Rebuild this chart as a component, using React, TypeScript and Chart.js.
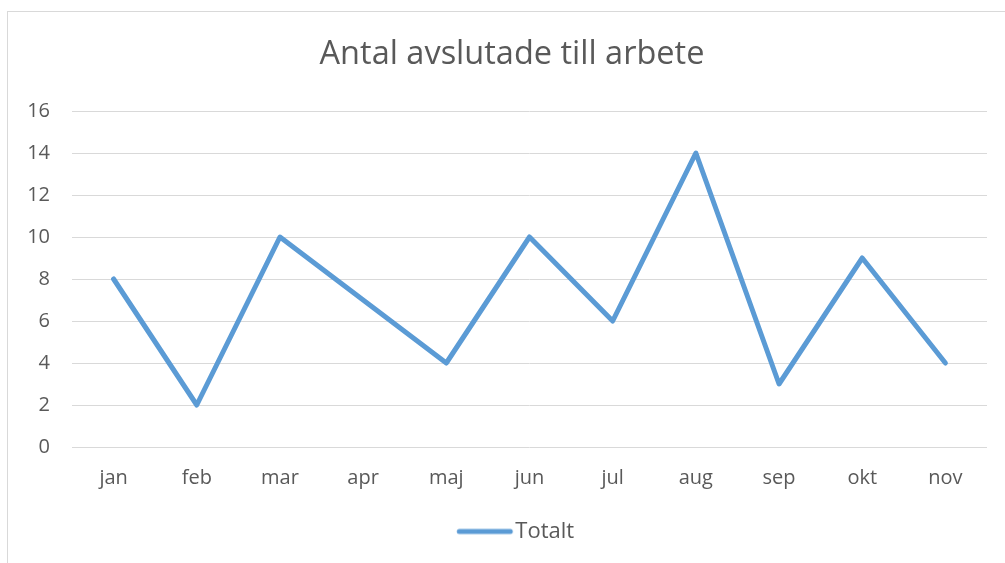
import React, { useEffect, useRef } from "react";
import { Chart, registerables } from "chart.js";

Chart.register(...registerables);

const categories = ["jan", "feb", "mar", "apr", "maj", "jun", "jul", "aug", "sep", "okt", "nov"];
const totalt = [8, 2, 10, 7, 4, 10, 6, 14, 3, 9, 4];
const yTicks = [0, 2, 4, 6, 8, 10, 12, 14, 16];
const titleText = "Antal avslutade till arbete";
const seriesName = "Totalt";

const LINE_COLOR = "#5B9BD5";
const TEXT_COLOR = "#595959";
const GRID_COLOR = "#d9d9d9";

export default function App() {
  const ref = useRef<HTMLCanvasElement | null>(null);

  useEffect(() => {
    if (!ref.current) return;
    const marker = document.createElement("canvas");
    marker.width = 80;
    marker.height = 10;
    const mctx = marker.getContext("2d")!;
    mctx.strokeStyle = LINE_COLOR;
    mctx.lineWidth = 5;
    mctx.lineCap = "round";
    mctx.beginPath();
    mctx.moveTo(22.2, 5);
    mctx.lineTo(73.2, 5);
    mctx.stroke();

    const chart = new Chart(ref.current, {
      type: "line",
      data: {
        labels: categories,
        datasets: [
          {
            label: seriesName,
            data: totalt,
            borderColor: LINE_COLOR,
            backgroundColor: LINE_COLOR,
            borderWidth: 5,
            borderCapStyle: "round",
            borderJoinStyle: "round",
            tension: 0,
            pointRadius: 0,
            pointHoverRadius: 0,
            fill: false,
          },
        ],
      },
      options: {
        responsive: false,
        animation: false,
        devicePixelRatio: 1,
        layout: { padding: { left: 19, right: 0, top: 0, bottom: 10.5 } },
        plugins: {
          tooltip: { enabled: false },
          title: {
            display: true,
            text: titleText,
            color: TEXT_COLOR,
            font: { family: "'Open Sans'", size: 32.5, weight: "normal", lineHeight: 1.2 },
            padding: { top: 35.4, bottom: 36.6 },
          },
          legend: {
            display: true,
            position: "bottom",
            labels: {
              usePointStyle: true,
              pointStyle: marker as any,
              pointStyleWidth: 54.4,
              color: TEXT_COLOR,
              padding: 10,
              font: { family: "'Open Sans'", size: 22 },
            },
          },
        },
        scales: {
          x: {
            type: "category",
            offset: true,
            grid: { display: false, drawTicks: false },
            border: { display: false },
            ticks: {
              color: TEXT_COLOR,
              padding: 19.5,
              font: { family: "'Open Sans'", size: 20 },
              maxRotation: 0,
            },
            afterFit: (scale: any) => {
              scale.height = 63.5;
            },
          },
          y: {
            min: 0,
            max: 16,
            afterBuildTicks: (scale: any) => {
              scale.ticks = yTicks.map((v) => ({ value: v }));
            },
            grid: { color: GRID_COLOR, lineWidth: 1, drawTicks: false },
            border: { display: false },
            ticks: {
              color: TEXT_COLOR,
              padding: 22,
              font: { family: "'Open Sans'", size: 20 },
            },
            afterFit: (scale: any) => {
              scale.width = 53;
            },
          },
          yRight: {
            position: "right",
            display: true,
            grid: { display: false, drawTicks: false },
            border: { display: false },
            ticks: { display: false },
            afterFit: (scale: any) => {
              scale.width = 18;
            },
          },
        },
      },
    });
    return () => chart.destroy();
  }, []);

  return (
    <div
      style={{
        position: "fixed",
        left: 0,
        top: 0,
        width: 1005,
        height: 563,
        overflow: "hidden",
        background: "#ffffff",
      }}
    >
      <div
        style={{
          position: "absolute",
          left: 7,
          top: 11,
          width: 1100,
          height: 700,
          border: `1px solid ${GRID_COLOR}`,
          boxSizing: "border-box",
        }}
      />
      <canvas
        ref={ref}
        width={1005}
        height={563}
        style={{ position: "absolute", left: 0, top: 0, width: 1005, height: 563 }}
      />
    </div>
  );
}
